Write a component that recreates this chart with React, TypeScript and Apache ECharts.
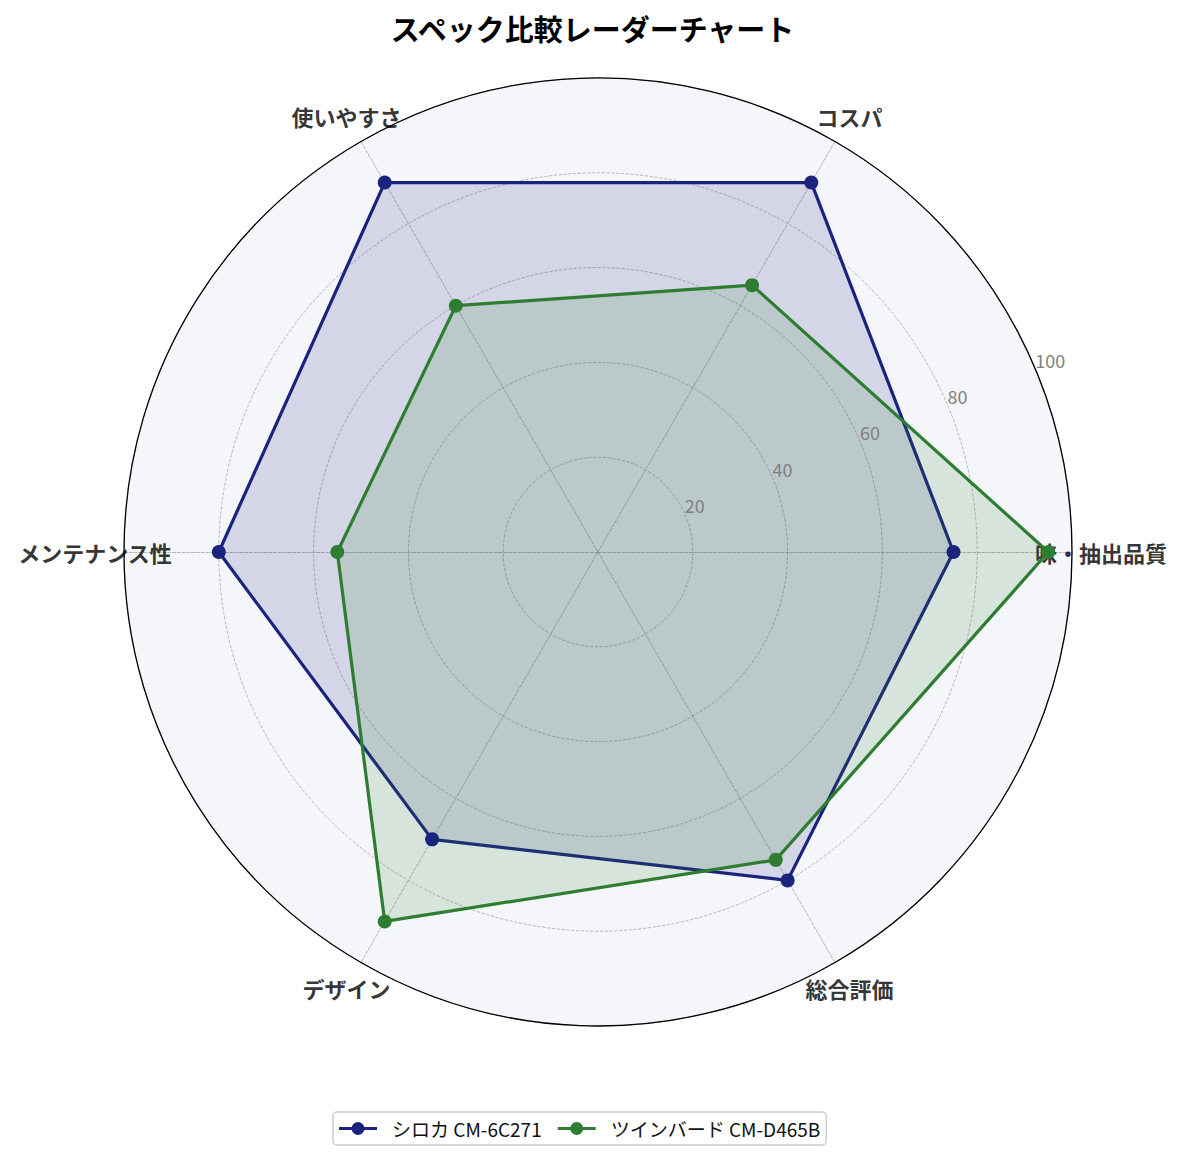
import { useEffect, useRef } from "react";
import * as echarts from "echarts";

const indicatorNames = ["味・抽出品質", "コスパ", "使いやすさ", "メンテナンス性", "デザイン", "総合評価"];
const sirocaValues = [75, 90, 90, 80, 70, 80];
const twinbirdValues = [95, 65, 60, 55, 90, 75];
const seriesNames = ["シロカ CM-6C271", "ツインバード CM-D465B"];
const seriesColors = ["#1a237e", "#2e7d32"];
const tickMax = 100;
const tickStep = 20;

const FONT = "'Noto Sans CJK JP', 'Noto Sans', sans-serif";
const CENTER = [598, 552];
const RADIUS = 474;

// line with a dot in the middle, like the matplotlib legend handle
const legendIcon =
  "path://M0,5 L38,5 L38,8 L0,8 Z M19,0 A6.5,6.5 0 1,1 19,13 A6.5,6.5 0 1,1 19,0 Z";

const App = () => {
  const containerRef = useRef<HTMLDivElement>(null);

  useEffect(() => {
    document.body.style.margin = "0";
    if (!containerRef.current) return;
    const chart = echarts.init(containerRef.current, undefined, { renderer: "svg" });

    const values = [sirocaValues, twinbirdValues];

    chart.setOption({
      animation: false,
      textStyle: { fontFamily: FONT },
      title: {
        text: "スペック比較レーダーチャート",
        left: "center",
        top: 8,
        textStyle: { fontSize: 29, fontWeight: "bold", color: "#000", fontFamily: FONT },
      },
      legend: {
        data: seriesNames,
        top: 1112,
        left: 333,
        icon: legendIcon,
        itemWidth: 38,
        itemHeight: 13,
        itemGap: 16,
        padding: [7, 6],
        borderColor: "#cccccc",
        borderWidth: 1.5,
        borderRadius: 4,
        textStyle: { fontSize: 19, color: "#111", fontFamily: FONT, padding: [0, 0, 0, 10] },
      },
      radar: {
        center: CENTER,
        radius: RADIUS,
        startAngle: 0,
        shape: "circle",
        splitNumber: tickMax / tickStep,
        indicator: indicatorNames.map((name) => ({ name, min: 0, max: tickMax })),
        axisName: { show: false },
        axisLine: { lineStyle: { color: "#a6a6a6", type: "dashed", width: 0.8 } },
        splitLine: { lineStyle: { color: "#a6a6a6", type: "dashed", width: 0.8 } },
        splitArea: { show: true, areaStyle: { color: ["#f5f6fa"] } },
      },
      polar: [
        { center: CENTER, radius: RADIUS },
        { center: CENTER, radius: RADIUS },
      ],
      angleAxis: [
        {
          polarIndex: 0,
          type: "value",
          min: 0,
          max: 360,
          startAngle: 22.5,
          z: 3,
          axisLine: { show: true, lineStyle: { color: "#000", width: 1.3 } },
          axisTick: { show: false },
          axisLabel: { show: false },
          splitLine: { show: false },
        },
        {
          polarIndex: 1,
          type: "value",
          min: 0,
          max: 360,
          startAngle: 0,
          clockwise: false,
          show: false,
        },
      ],
      radiusAxis: [
        {
          polarIndex: 0,
          min: 0,
          max: tickMax,
          interval: tickStep,
          z: 3,
          axisLine: { show: false },
          axisTick: { show: false },
          splitLine: { show: false },
          axisLabel: {
            formatter: (v: number) => (v === 0 ? "" : String(v)),
            color: "#808080",
            fontSize: 18,
            align: "left",
            verticalAlign: "bottom",
            margin: 2,
            fontFamily: FONT,
          },
        },
        { polarIndex: 1, min: 0, max: tickMax, show: false },
      ],
      series: [
        ...seriesNames.map((name, i) => ({
          type: "radar",
          name,
          z: 2,
          symbol: "circle",
          symbolSize: 14,
          lineStyle: { width: 3.2, color: seriesColors[i] },
          itemStyle: { color: seriesColors[i] },
          areaStyle: { color: seriesColors[i], opacity: 0.15 },
          data: [{ name, value: values[i] }],
        })),
        {
          // axis names, placed a bit outside the outer ring
          type: "scatter",
          coordinateSystem: "polar",
          polarIndex: 1,
          z: 1,
          silent: true,
          clip: false,
          symbolSize: 0,
          data: indicatorNames.map((name, i) => ({ name, value: [106.1, i * 60] })),
          label: {
            show: true,
            position: "inside",
            formatter: "{b}",
            fontSize: 22,
            fontWeight: "bold",
            color: "#000",
            fontFamily: FONT,
          },
        },
      ],
    });

    return () => {
      chart.dispose();
    };
  }, []);

  return <div ref={containerRef} style={{ width: 1185, height: 1161 }} />;
};

export default App;
